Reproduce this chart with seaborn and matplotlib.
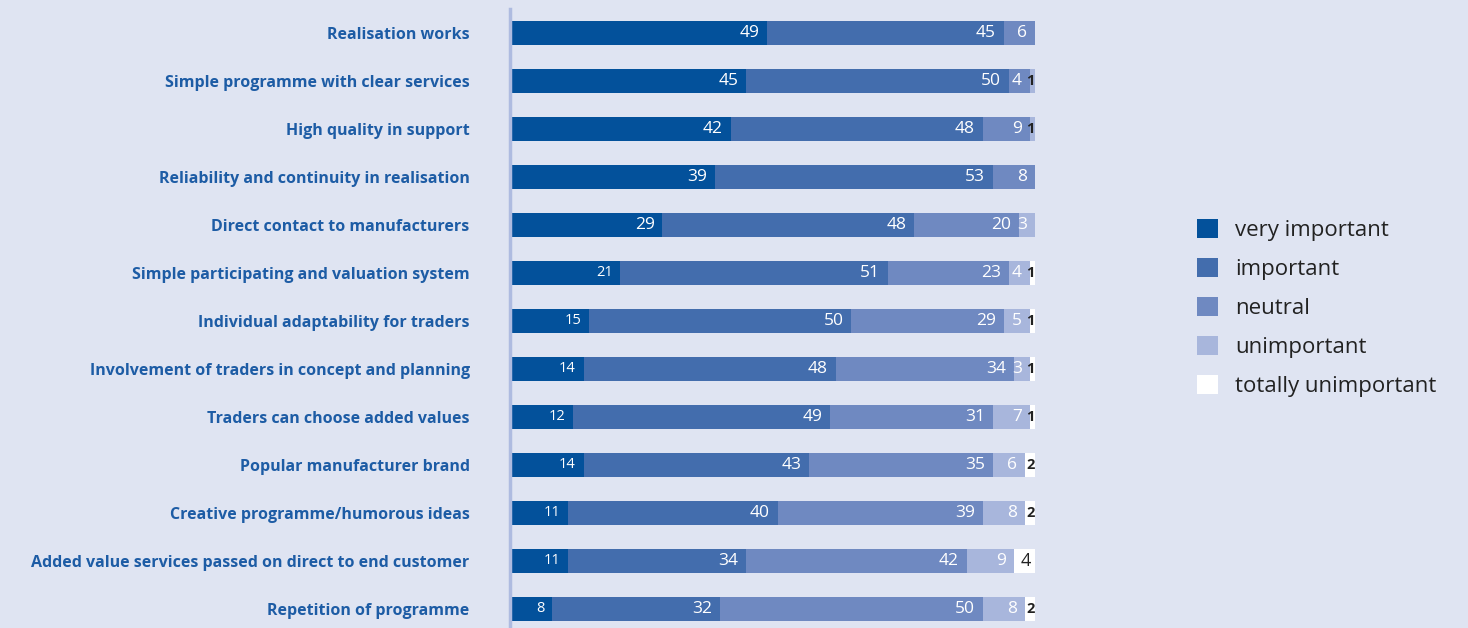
import matplotlib
matplotlib.use("Agg")
import matplotlib.pyplot as plt
import seaborn as sns
import pandas as pd
import numpy as np
from matplotlib.patches import Patch

categories = [
    "Realisation works",
    "Simple programme with clear services",
    "High quality in support",
    "Reliability and continuity in realisation",
    "Direct contact to manufacturers",
    "Simple participating and valuation system",
    "Individual adaptability for traders",
    "Involvement of traders in concept and planning",
    "Traders can choose added values",
    "Popular manufacturer brand",
    "Creative programme/humorous ideas",
    "Added value services passed on direct to end customer",
    "Repetition of programme",
]
series_names = ["very important", "important", "neutral", "unimportant", "totally unimportant"]
very_important = [49, 45, 42, 39, 29, 21, 15, 14, 12, 14, 11, 11, 8]
important = [45, 50, 48, 53, 48, 51, 50, 48, 49, 43, 40, 34, 32]
neutral = [6, 4, 9, 8, 20, 23, 29, 34, 31, 35, 39, 42, 50]
unimportant = [0, 1, 1, 0, 3, 4, 5, 3, 7, 6, 8, 9, 8]
totally_unimportant = [0, 0, 0, 0, 0, 1, 1, 1, 1, 2, 2, 4, 2]

colors = ["#03519b", "#436dad", "#6f89c1", "#a8b6dc", "#ffffff"]
bg = "#dfe4f2"
label_blue = "#1d5ca5"

sns.set_theme(style="white")
plt.rcParams["font.family"] = ["Open Sans", "DejaVu Sans"]

values = [very_important, important, neutral, unimportant, totally_unimportant]
df = pd.DataFrame({name: v for name, v in zip(series_names, values)})
df["category"] = categories
cum = df[series_names].cumsum(axis=1)

fig = plt.figure(figsize=(14.68, 6.28), dpi=100, facecolor=bg)
ax = fig.add_axes([510 / 1468, 0.0, 525 / 1468, 619 / 628])
ax.set_facecolor(bg)

containers = {}
for i in reversed(range(len(series_names))):
    name = series_names[i]
    d = pd.DataFrame({"category": categories, "value": cum[name].values})
    sns.barplot(data=d, x="value", y="category", order=categories, color=colors[i],
                orient="h", width=0.5, linewidth=0, saturation=1, ax=ax)
    containers[name] = ax.containers[-1]

for i, name in enumerate(series_names):
    vals = values[i]
    for j, p in enumerate(containers[name].patches):
        v = vals[j]
        if v <= 0:
            continue
        xe = p.get_x() + p.get_width()
        yc = p.get_y() + p.get_height() / 2
        dark = (name == "totally unimportant") or v <= 1
        if dark:
            fs = 13 if v >= 4 else 10.5
            fw = "normal" if v >= 4 else "bold"
            off = -3 if v >= 4 else -0.5
            ax.annotate(str(v), (xe, yc), xytext=(off, 0), textcoords="offset points",
                        ha="right", va="center", color="#222222", fontsize=fs, fontweight=fw)
        else:
            fs = 10.5 if (name == "very important" and v <= 21) else 12.5
            ax.annotate(str(v), (xe, yc), xytext=(-5.5, 0), textcoords="offset points",
                        ha="right", va="center", color="white", fontsize=fs)

ax.set_xlim(0, 100)
ax.set_ylim(-0.5 + 619 / 48, -0.5)
ax.set_xlabel("")
ax.set_ylabel("")
ax.set_xticks([])
ax.tick_params(axis="y", length=0, pad=29)
ax.set_yticks(range(len(categories)))
ax.set_yticklabels(categories, fontsize=11.5, fontweight="bold", color=label_blue,
                   family=["Open Sans", "DejaVu Sans"])
for s in ["top", "right", "bottom"]:
    ax.spines[s].set_visible(False)
ax.spines["left"].set_color("#aebbe0")
ax.spines["left"].set_linewidth(2.5)

handles = [Patch(facecolor=c, edgecolor="none") for c in colors]
fig.legend(handles, series_names, loc="upper left", bbox_to_anchor=(1177 / 1468, 1 - 199 / 628),
           frameon=False, fontsize=16, handlelength=0.95, handleheight=0.95,
           handletextpad=0.75, labelspacing=0.75, labelcolor="#222222")

fig.savefig("out.png", dpi=100, facecolor=bg)
